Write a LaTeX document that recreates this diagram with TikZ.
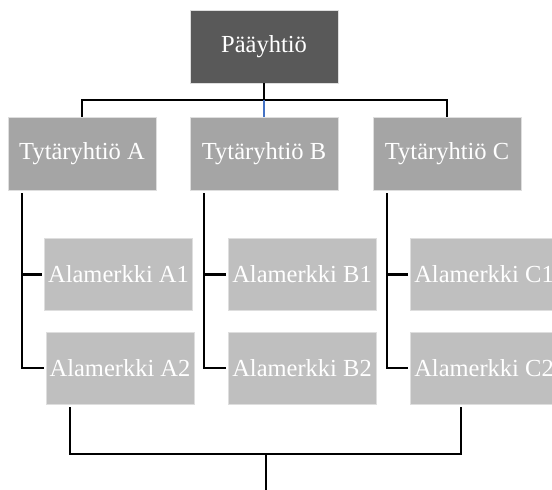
\documentclass[tikz,border=0pt]{standalone}
\usepackage{fontspec}
\setmainfont{Liberation Serif}
\usepackage{xcolor}
\usepackage{tikz}
\usetikzlibrary{positioning}
\definecolor{ParentGray}{RGB}{89, 89, 89}
\definecolor{SubGray}{RGB}{165, 165, 165}
\definecolor{BrandGray}{RGB}{191, 191, 191}
\definecolor{BoxEdge}{RGB}{222, 222, 222}
\definecolor{LinkBlue}{RGB}{68, 114, 196}

\begin{document}
\begin{tikzpicture}[
    x=1pt, y=-1pt,
    box/.style={draw=BoxEdge, line width=0.8pt, rectangle, align=center, inner sep=0pt, text=white, font=\fontsize{24.5}{29}\selectfont},
    parent/.style={box, fill=ParentGray, minimum width=148pt, minimum height=73pt},
    sub/.style={box, fill=SubGray, minimum width=148pt, minimum height=73pt},
    brand/.style={box, fill=BrandGray, minimum width=148pt, minimum height=72pt},
    link/.style={draw=black, line width=2.2pt}
]
\useasboundingbox (0,0) rectangle (552,490);

\node (paa) [parent] at (264,46.5) {Pääyhtiö};

\node (ta) [sub] at (82,153.5) {Tytäryhtiö A};
\node (tb) [sub] at (264,153.5) {Tytäryhtiö B};
\node (tc) [sub] at (447,153.5) {Tytäryhtiö C};

\node (a1) [brand] at (118.5,274.5) {Alamerkki A1};
\node (a2) [brand] at (120,368) {Alamerkki A2};
\node (b1) [brand] at (302,274.5) {Alamerkki B1};
\node (b2) [brand] at (302,368) {Alamerkki B2};
\node (c1) [brand] at (484,274.5) {Alamerkki C1};
\node (c2) [brand] at (484,368) {Alamerkki C2};

\coordinate (bar) at (264,100);
\coordinate (join) at (266,454);
\coordinate (out) at (266,490);

% top level
\draw [link] (paa.south) -- (bar);
\draw [link] (bar) -| (ta.north);
\draw [link] (bar) -| (tc.north);
\draw [link, draw=LinkBlue] (bar) -- (tb.north);

% brands under each subsidiary
\foreach \t/\u/\v in {ta/a1/a2, tb/b1/b2, tc/c1/c2} {
  \draw [link] ([xshift=14pt,yshift=-3pt]\t.south west) |- ([xshift=-2pt]\v.west);
  \draw [link] ([xshift=14pt]\t.south west |- \u.west) -- ([xshift=-2pt]\u.west);
}

% bottom bracket
\draw [link] ([xshift=24pt,yshift=-3pt]a2.south west) |- (join) -| ([xshift=51pt,yshift=-3pt]c2.south west);
\draw [link] (join) -- (out);

\end{tikzpicture}
\end{document}
